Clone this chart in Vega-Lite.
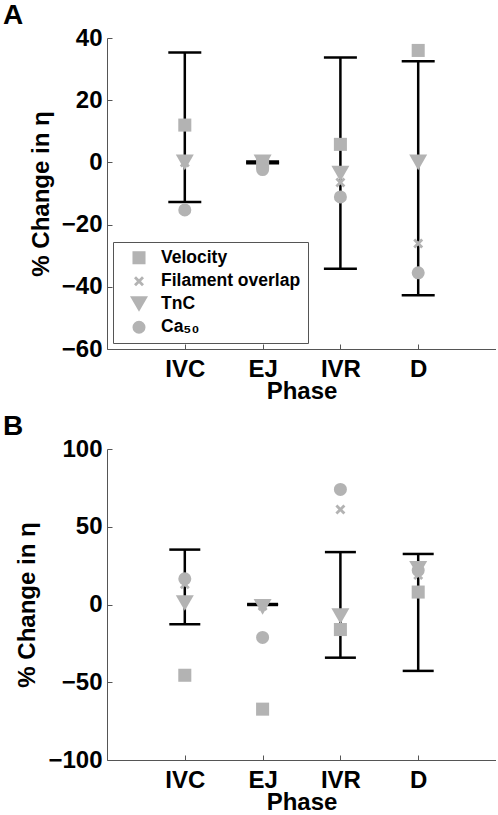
{
  "$schema": "https://vega.github.io/schema/vega-lite/v6.json",
  "padding": {"left": 3, "top": 2, "right": 0, "bottom": 0},
  "background": "white",
  "config": {
    "font": "Liberation Sans",
    "view": {"stroke": null},
    "axis": {
      "domainColor": "#555555",
      "domainWidth": 1,
      "tickColor": "#555555",
      "tickWidth": 1,
      "tickSize": -5,
      "grid": false,
      "labelFont": "Liberation Sans",
      "labelFontSize": 24,
      "labelFontWeight": "bold",
      "labelColor": "black",
      "titleFont": "Liberation Sans",
      "titleFontSize": 24,
      "titleFontWeight": "bold",
      "titleColor": "black"
    },
    "title": {"font": "Liberation Sans", "fontSize": 28, "fontWeight": "bold", "color": "black", "anchor": "start", "frame": "group"}
  },
  "datasets": {
    "bars": [
      {"phase": 1, "lower": -12.7, "upper": 35.3},
      {"phase": 2, "lower": -0.3, "upper": 0.3},
      {"phase": 3, "lower": -34.2, "upper": 33.7},
      {"phase": 4, "lower": -42.7, "upper": 32.5}
    ],
    "ptsA": [
      {"phase": 1, "series": "Velocity", "value": 12},
      {"phase": 1, "series": "Filament overlap", "value": 0},
      {"phase": 1, "series": "TnC", "value": 0},
      {"phase": 1, "series": "Ca₅₀", "value": -15.3},
      {"phase": 2, "series": "Velocity", "value": 0},
      {"phase": 2, "series": "Filament overlap", "value": 0},
      {"phase": 2, "series": "TnC", "value": 0},
      {"phase": 2, "series": "Ca₅₀", "value": -2.3},
      {"phase": 3, "series": "Velocity", "value": 5.8},
      {"phase": 3, "series": "Filament overlap", "value": -6.5},
      {"phase": 3, "series": "TnC", "value": -3.6},
      {"phase": 3, "series": "Ca₅₀", "value": -11.1},
      {"phase": 4, "series": "Velocity", "value": 36},
      {"phase": 4, "series": "Filament overlap", "value": -26.1},
      {"phase": 4, "series": "TnC", "value": 0},
      {"phase": 4, "series": "Ca₅₀", "value": -35.5}
    ],
    "ptsB": [
      {"phase": 1, "series": "Velocity", "value": -45.5},
      {"phase": 1, "series": "Filament overlap", "value": 13},
      {"phase": 1, "series": "TnC", "value": 1},
      {"phase": 1, "series": "Ca₅₀", "value": 16.5},
      {"phase": 2, "series": "Velocity", "value": -67.3},
      {"phase": 2, "series": "Filament overlap", "value": -1},
      {"phase": 2, "series": "TnC", "value": -1.5},
      {"phase": 2, "series": "Ca₅₀", "value": -21.2},
      {"phase": 3, "series": "Velocity", "value": -16.1},
      {"phase": 3, "series": "Filament overlap", "value": 61.1},
      {"phase": 3, "series": "TnC", "value": -7.5},
      {"phase": 3, "series": "Ca₅₀", "value": 74},
      {"phase": 4, "series": "Velocity", "value": 8},
      {"phase": 4, "series": "Filament overlap", "value": 19},
      {"phase": 4, "series": "TnC", "value": 23},
      {"phase": 4, "series": "Ca₅₀", "value": 22}
    ]
  },
  "spacing": 10,
  "resolve": {"scale": {"shape": "independent", "size": "independent"}},
  "vconcat": [
    {
      "resolve": {"scale": {"shape": "independent", "size": "independent"}},
      "hconcat": [
        {
          "width": 389,
          "height": 311,
          "title": {"text": "A", "dx": -104, "offset": -4},
          "layer": [
            {
              "data": {"name": "bars"},
              "mark": {"type": "rule", "color": "black", "strokeWidth": 2.5},
              "encoding": {
                "x": {"field": "phase", "type": "quantitative", "scale": {"domain": [0, 5], "nice": false}, "axis": {"values": [1, 2, 3, 4], "labelExpr": "['', 'IVC', 'EJ', 'IVR', 'D'][datum.value]", "labelPadding": 13, "titlePadding": -2, "title": "Phase"}},
                "y": {"field": "lower", "type": "quantitative", "scale": {"domain": [-60, 40], "nice": false}, "axis": {"values": [-60, -40, -20, 0, 20, 40], "labelPadding": 10, "titlePadding": 8, "title": "% Change in η"}},
                "y2": {"field": "upper"}
              }
            },
            {
              "data": {"name": "bars"},
              "mark": {"type": "tick", "orient": "horizontal", "color": "black", "size": 33, "thickness": 2.5, "opacity": 1},
              "encoding": {
                "x": {"field": "phase", "type": "quantitative"},
                "y": {"field": "lower", "type": "quantitative"}
              }
            },
            {
              "data": {"name": "bars"},
              "mark": {"type": "tick", "orient": "horizontal", "color": "black", "size": 33, "thickness": 2.5, "opacity": 1},
              "encoding": {
                "x": {"field": "phase", "type": "quantitative"},
                "y": {"field": "upper", "type": "quantitative"}
              }
            },
            {
              "data": {"name": "ptsA"},
              "mark": {"type": "point", "filled": true, "opacity": 1, "color": "#b3b3b3", "strokeWidth": 0},
              "encoding": {
                "x": {"field": "phase", "type": "quantitative"},
                "y": {"field": "value", "type": "quantitative"},
                "shape": {
                  "field": "series", "type": "nominal",
                  "scale": {"domain": ["Velocity", "Filament overlap", "TnC", "Ca₅₀"], "range": ["square", "M-1,-0.6L-0.6,-1L0,-0.4L0.6,-1L1,-0.6L0.4,0L1,0.6L0.6,1L0,0.4L-0.6,1L-1,0.6L-0.4,0Z", "triangle-down", "circle"]},
                  "legend": {
                    "orient": "bottom-left", "offset": 6, "title": null,
                    "fillColor": "white", "strokeColor": "#555555", "padding": 7,
                    "symbolOffset": 10, "labelOffset": 13, "rowPadding": 4.5,
                    "labelFont": "Liberation Sans", "labelFontSize": 17.5, "labelFontWeight": "bold", "labelColor": "black", "labelLimit": 300,
                    "symbolFillColor": "#b3b3b3", "symbolStrokeWidth": 0, "symbolOpacity": 1
                  }
                },
                "size": {
                  "field": "series", "type": "nominal",
                  "scale": {"type": "ordinal", "domain": ["Velocity", "Filament overlap", "TnC", "Ca₅₀"], "range": [170, 100, 324, 170]},
                  "legend": {
                    "orient": "bottom-left", "offset": 6, "title": null,
                    "fillColor": "white", "strokeColor": "#555555", "padding": 7,
                    "symbolOffset": 10, "labelOffset": 13, "rowPadding": 4.5,
                    "labelFont": "Liberation Sans", "labelFontSize": 17.5, "labelFontWeight": "bold", "labelColor": "black", "labelLimit": 300,
                    "symbolFillColor": "#b3b3b3", "symbolStrokeWidth": 0, "symbolOpacity": 1
                  }
                }
              }
            }
          ]
        }
      ]
    },
    {
      "resolve": {"scale": {"shape": "independent", "size": "independent"}},
      "hconcat": [
        {
          "width": 389,
          "height": 311,
          "title": {"text": "B", "dx": -104, "offset": -4},
          "layer": [
            {
              "data": {"name": "bars"},
              "mark": {"type": "rule", "color": "black", "strokeWidth": 2.5},
              "encoding": {
                "x": {"field": "phase", "type": "quantitative", "scale": {"domain": [0, 5], "nice": false}, "axis": {"values": [1, 2, 3, 4], "labelExpr": "['', 'IVC', 'EJ', 'IVR', 'D'][datum.value]", "labelPadding": 13, "titlePadding": -2, "title": "Phase"}},
                "y": {"field": "lower", "type": "quantitative", "scale": {"domain": [-100, 100], "nice": false}, "axis": {"values": [-100, -50, 0, 50, 100], "labelPadding": 10, "titlePadding": 8, "title": "% Change in η"}},
                "y2": {"field": "upper"}
              }
            },
            {
              "data": {"name": "bars"},
              "mark": {"type": "tick", "orient": "horizontal", "color": "black", "size": 31, "thickness": 2.5, "opacity": 1},
              "encoding": {
                "x": {"field": "phase", "type": "quantitative"},
                "y": {"field": "lower", "type": "quantitative"}
              }
            },
            {
              "data": {"name": "bars"},
              "mark": {"type": "tick", "orient": "horizontal", "color": "black", "size": 31, "thickness": 2.5, "opacity": 1},
              "encoding": {
                "x": {"field": "phase", "type": "quantitative"},
                "y": {"field": "upper", "type": "quantitative"}
              }
            },
            {
              "data": {"name": "ptsB"},
              "mark": {"type": "point", "filled": true, "opacity": 1, "color": "#b3b3b3", "strokeWidth": 0},
              "encoding": {
                "x": {"field": "phase", "type": "quantitative"},
                "y": {"field": "value", "type": "quantitative"},
                "shape": {
                  "field": "series", "type": "nominal",
                  "scale": {"domain": ["Velocity", "Filament overlap", "TnC", "Ca₅₀"], "range": ["square", "M-1,-0.6L-0.6,-1L0,-0.4L0.6,-1L1,-0.6L0.4,0L1,0.6L0.6,1L0,0.4L-0.6,1L-1,0.6L-0.4,0Z", "triangle-down", "circle"]},
                  "legend": null
                },
                "size": {
                  "field": "series", "type": "nominal",
                  "scale": {"type": "ordinal", "domain": ["Velocity", "Filament overlap", "TnC", "Ca₅₀"], "range": [170, 100, 324, 170]},
                  "legend": null
                }
              }
            }
          ]
        }
      ]
    }
  ]
}
